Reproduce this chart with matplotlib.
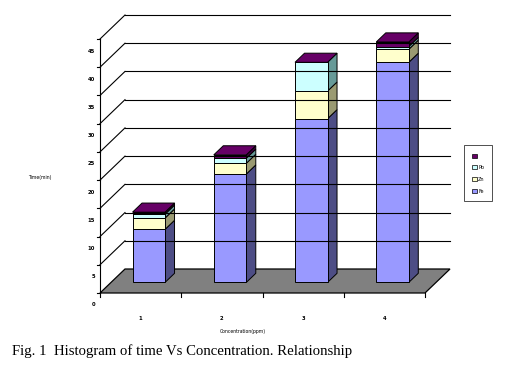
import matplotlib
matplotlib.use("Agg")
import matplotlib.pyplot as plt  # noqa: E402
from matplotlib.patches import Polygon, Patch  # noqa: E402
from matplotlib.lines import Line2D  # noqa: E402
from matplotlib.transforms import IdentityTransform  # noqa: E402

# data
categories = ["1", "2", "3", "4"]
fe = [9.4, 19.2, 29.0, 39.0]
zn = [2.0, 1.9, 4.9, 2.3]
pb = [0.7, 0.9, 5.1, 0.5]
top = [0.35, 0.6, 0.0, 0.8]
series = [fe, zn, pb, top]
names = ["Fe", "Zn", "Pb", ""]
front_cols = ["#9999ff", "#ffffcc", "#ccffff", "#660066"]
side_cols = ["#4d4d85", "#9a9a72", "#679a98", "#3d003d"]
y_ticks = [0, 5, 10, 15, 20, 25, 30, 35, 40, 45]

W, H, DPI = 514, 376, 100
DX, DY = 25, 24          # depth of the 3d box, px
Z0, Z1 = 0.44, 0.82      # bar depth span
BW = 0.4
SHIFT = -0.035           # bars sit a touch left of the category centre

fig = plt.figure(figsize=(W / DPI, H / DPI), dpi=DPI)
ax = fig.add_axes([100 / W, (H - 293) / H, 325 / W, 254 / H])
ax.set_xlim(0.5, 4.5)
ax.set_ylim(0, 45)
ax.axis("off")
ID = IdentityTransform()


def proj(x, y, z=0.0):
    px, py = ax.transData.transform((x, y))
    return (px + DX * z, py + DY * z)


def poly(pts, fc, ec="black", lw=0.7):
    ax.add_patch(Polygon(pts, closed=True, facecolor=fc, edgecolor=ec, lw=lw,
                         transform=ID, clip_on=False))


def line(p, q, lw=0.8, color="black"):
    ax.add_line(Line2D([p[0], q[0]], [p[1], q[1]], color=color, lw=lw,
                       transform=ID, clip_on=False))


# back wall gridlines + left wall diagonals
for v in y_ticks[1:]:
    line(proj(0.5, v, 1), proj(4.5, v, 1))
    line(proj(0.5, v, 0), proj(0.5, v, 1))
# floor
poly([proj(0.5, 0, 0), proj(4.5, 0, 0), proj(4.5, 0, 1), proj(0.5, 0, 1)], "#808080", lw=0.9)

# front axes
line(proj(0.5, 0), proj(0.5, 45))
for v in y_ticks:
    x, y = proj(0.5, v)
    line((x - 3, y), (x, y))
    ax.text(x - 5, y - 12, str(v), transform=ID, ha="right", va="center",
            fontsize=3.8, fontweight="bold")
for i in range(len(categories) + 1):
    x, y = proj(0.5 + i, 0)
    line((x, y), (x, y - 4))
for i, c in enumerate(categories):
    x, y = proj(i + 1, 0)
    ax.text(x, y - 25, c, transform=ID, ha="center", va="center",
            fontsize=3.8, fontweight="bold")

# stacked 3d bars
for i in range(len(categories)):
    xc = i + 1 + SHIFT
    x0, x1 = xc - BW / 2, xc + BW / 2
    base = 0.0
    for s, fc, sc in zip(series, front_cols, side_cols):
        h = s[i]
        if h > 0:
            t = base + h
            poly([proj(x1, base, Z0), proj(x1, base, Z1), proj(x1, t, Z1), proj(x1, t, Z0)], sc)
            poly([proj(x0, base, Z0), proj(x1, base, Z0), proj(x1, t, Z0), proj(x0, t, Z0)], fc)
            base = t
    poly([proj(x0, base, Z0), proj(x1, base, Z0), proj(x1, base, Z1), proj(x0, base, Z1)],
         front_cols[-1])

# axis titles
fig.text(40 / W, 1 - 177 / H, "Time(min)", ha="center", va="center", fontsize=3.3)
fig.text(243 / W, 1 - 331 / H, "Concentration(ppm)", ha="center", va="center", fontsize=3.3)

# legend
handles = [Patch(facecolor=c, edgecolor="black", lw=0.5) for c in front_cols[::-1]]
leg = fig.legend(handles, names[::-1], loc="upper left",
                 bbox_to_anchor=(462 / W, 1 - 143 / H), fontsize=3.5,
                 handlelength=0.9, handleheight=0.9, handletextpad=0.3,
                 labelspacing=1.4, borderpad=1.6, frameon=True, fancybox=False)
leg.get_frame().set_edgecolor("black")
leg.get_frame().set_linewidth(0.6)

fig.text(12 / W, 1 - 355 / H, "Fig. 1  Histogram of time Vs Concentration. Relationship",
         family="Liberation Serif", fontsize=10.6, va="baseline")

fig.savefig("out.png", dpi=DPI, facecolor="white")
